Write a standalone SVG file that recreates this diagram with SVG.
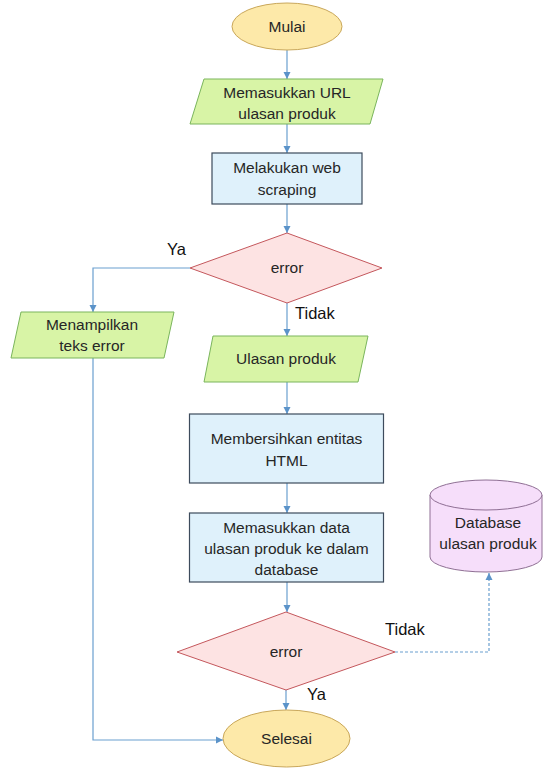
<svg xmlns="http://www.w3.org/2000/svg" width="543" height="768" viewBox="0 0 543 768">
<style>
.t{font-family:"Liberation Sans","Noto Sans",sans-serif;font-size:15.5px;fill:#262626;text-anchor:middle}
.lb{font-family:"Liberation Sans","Noto Sans",sans-serif;font-size:16.5px;fill:#111}
.term{fill:#fde9a9;stroke:#c9a75a;stroke-width:1}
.io{fill:#d8f4a6;stroke:#7ab55c;stroke-width:1}
.proc{fill:#dff1fb;stroke:#3d4b5c;stroke-width:1.2}
.dec{fill:#fde3e3;stroke:#c4575c;stroke-width:1}
.db{fill:#f6defa;stroke:#8f6f94;stroke-width:1}
.c{fill:none;stroke:#6a9fcf;stroke-width:1.2}
.d{stroke-dasharray:3 2}
</style>
<defs>
<marker id="ah" markerUnits="userSpaceOnUse" markerWidth="8" markerHeight="8" refX="7" refY="4" orient="auto">
<path d="M0,0.5 L7,4 L0,7.5 Z" fill="#5b93c9"/>
</marker>
</defs>
<rect width="543" height="768" fill="#ffffff"/>
<g id="connectors">
<path class="c" d="M287,50 V79" marker-end="url(#ah)"/>
<path class="c" d="M287,124 V153" marker-end="url(#ah)"/>
<path class="c" d="M287,204 V233" marker-end="url(#ah)"/>
<path class="c" d="M190,268 H93 V312" marker-end="url(#ah)"/>
<path class="c" d="M287,303 V336" marker-end="url(#ah)"/>
<path class="c" d="M287,382 V414" marker-end="url(#ah)"/>
<path class="c" d="M287,483 V513" marker-end="url(#ah)"/>
<path class="c" d="M287,582 V612" marker-end="url(#ah)"/>
<path class="c" d="M286,690 V710" marker-end="url(#ah)"/>
<path class="c" d="M93,358 V740 H223" marker-end="url(#ah)"/>
<path class="c d" d="M395,652 H489 V573" marker-end="url(#ah)"/>
</g>
<g id="mulai">
<ellipse class="term" cx="287" cy="26.5" rx="55" ry="23.5"/>
<text class="t" x="287" y="32">Mulai</text>
</g>
<g id="input-url">
<polygon class="io" points="204,79 383,79 370,124 190,124"/>
<text class="t" x="287" y="98">Memasukkan URL</text>
<text class="t" x="287" y="119">ulasan produk</text>
</g>
<g id="scraping">
<rect class="proc" x="212" y="153" width="150" height="51"/>
<text class="t" x="287" y="173">Melakukan web</text>
<text class="t" x="287" y="195">scraping</text>
</g>
<g id="error1">
<polygon class="dec" points="287,233 382,268 287,303 190,268"/>
<text class="t" x="287" y="273">error</text>
</g>
<g id="tampil-error">
<polygon class="io" points="21,312 174,312 164,358 11,358"/>
<text class="t" x="92" y="330">Menampilkan</text>
<text class="t" x="92" y="351">teks error</text>
</g>
<g id="ulasan">
<polygon class="io" points="213,336 368,336 358,382 204,382"/>
<text class="t" x="286" y="364">Ulasan produk</text>
</g>
<g id="bersihkan">
<rect class="proc" x="189.5" y="414" width="194" height="69"/>
<text class="t" x="286.5" y="444">Membersihkan entitas</text>
<text class="t" x="286.5" y="466">HTML</text>
</g>
<g id="simpan">
<rect class="proc" x="189.5" y="513" width="194" height="69"/>
<text class="t" x="286.5" y="533">Memasukkan data</text>
<text class="t" x="286.5" y="554">ulasan produk ke dalam</text>
<text class="t" x="286.5" y="575">database</text>
</g>
<g id="error2">
<polygon class="dec" points="286,612 395,652 286,690 177,652"/>
<text class="t" x="286" y="657">error</text>
</g>
<g id="database">
<path class="db" d="M430,495 A56,15 0 0 1 542,495 V557 A56,15 0 0 1 430,557 Z"/>
<path class="db" d="M430,495 A56,15 0 0 0 542,495" fill="none"/>
<text class="t" x="488" y="528">Database</text>
<text class="t" x="488" y="549">ulasan produk</text>
</g>
<g id="selesai">
<ellipse class="term" cx="286.5" cy="738.5" rx="63.5" ry="28.5"/>
<text class="t" x="286.5" y="744">Selesai</text>
</g>
<g id="labels">
<text class="lb" x="167" y="255">Ya</text>
<text class="lb" x="295" y="319">Tidak</text>
<text class="lb" x="385" y="635">Tidak</text>
<text class="lb" x="307" y="700">Ya</text>
</g>
</svg>
